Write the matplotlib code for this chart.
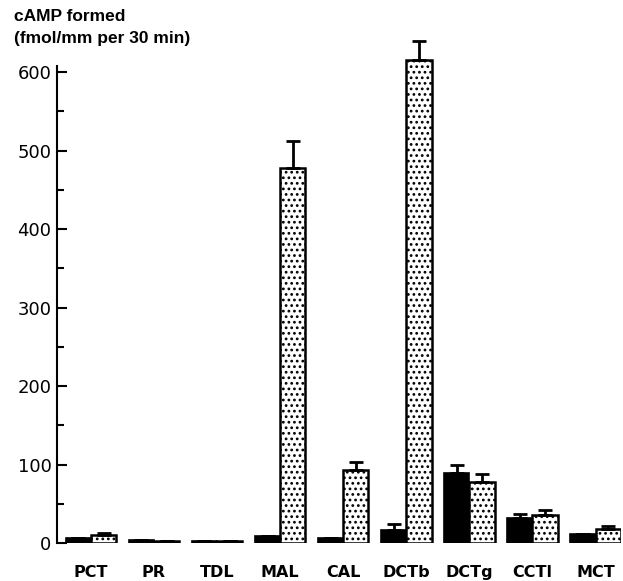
import numpy as np
import matplotlib
matplotlib.use("Agg")
import matplotlib.pyplot as plt

# ===== データ =====
segments = ["PCT", "PR", "TDL", "MAL", "CAL", "DCTb", "DCTg", "CCTl", "MCT"]
basal = [7, 4, 2, 9, 7, 16, 89, 32, 12]
basal_err = [0, 0, 0, 0, 0, 8, 11, 5, 0]
stimulated = [10, 2, 3, 478, 93, 615, 78, 36, 18]
stimulated_err = [3, 0, 0, 34, 10, 25, 10, 6, 4]
yticks = [0, 100, 200, 300, 400, 500, 600]

plt.rcParams["hatch.linewidth"] = 1.2
fig = plt.figure(figsize=(6.23, 5.81), dpi=100)
ax = fig.add_axes([0.0915, 0.0654, 0.905, 0.878])

x = np.arange(len(segments))
w = 0.4
ax.bar(x - w / 2, basal, w, color="black", edgecolor="black", linewidth=1.2)
ax.errorbar(x - w / 2, basal, yerr=[np.zeros(len(x)), basal_err], fmt="none",
            ecolor="black", elinewidth=2, capsize=5, capthick=2)
ax.bar(x + w / 2, stimulated, w, color="white", edgecolor="black",
       linewidth=1.8, hatch="...")
ax.errorbar(x + w / 2, stimulated, yerr=[np.zeros(len(x)), stimulated_err],
            fmt="none", ecolor="black", elinewidth=2, capsize=5, capthick=2)

ax.set_xlim(-0.537, 8.40)
ax.set_ylim(0, 650)
for s in ["top", "right", "bottom"]:
    ax.spines[s].set_visible(False)
ax.spines["left"].set_bounds(0, 608)
ax.spines["left"].set_linewidth(1.5)

ax.set_yticks(yticks)
ax.set_yticks(np.arange(50, 600, 100), minor=True)
ax.set_yticklabels([str(v) for v in yticks],
                   family=["Liberation Sans Narrow", "DejaVu Sans"], fontsize=13)
ax.tick_params(axis="y", which="major", direction="in", length=7, width=1.5, pad=4)
ax.tick_params(axis="y", which="minor", direction="in", length=5, width=1.5)

ax.set_xticks(x)
ax.set_xticklabels(segments, fontweight="bold", fontsize=11.5,
                   family=["DejaVu Sans"])
ax.tick_params(axis="x", length=0, pad=16)

fig.text(0.022, 0.972, "cAMP formed", fontsize=12.5, fontweight="semibold",
         family=["Liberation Sans", "DejaVu Sans"], va="center")
fig.text(0.022, 0.933, "(fmol/mm per 30 min)", fontsize=12.5, fontweight="semibold",
         family=["Liberation Sans", "DejaVu Sans"], va="center")

fig.savefig("out.png", dpi=100)
